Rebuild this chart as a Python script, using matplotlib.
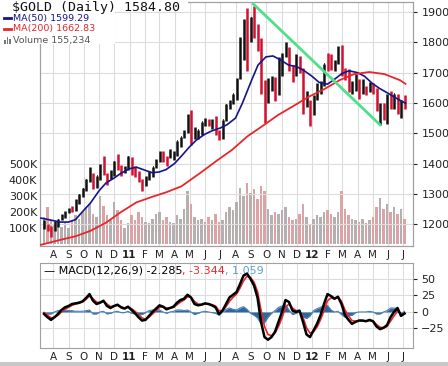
import matplotlib
matplotlib.use('Agg')
import matplotlib.pyplot as plt
import matplotlib.dates as mdates
from matplotlib.patches import Rectangle
import numpy as np
import pandas as pd

# weekly bars (week marked by its Wednesday)
weeks = pd.date_range('2010-07-14', '2012-07-04', freq='W-WED')

high = [1215, 1200, 1195, 1210, 1218, 1235, 1242, 1252, 1259, 1282, 1300, 1320, 1350, 1387, 1370, 1360,
        1398, 1424, 1368, 1380, 1410, 1432, 1395, 1392, 1424,
        1422, 1392, 1375, 1348, 1360, 1375, 1390, 1415, 1440, 1440, 1425, 1448, 1440, 1476, 1488, 1510,
        1565, 1577, 1520, 1512, 1538, 1550, 1548, 1547, 1556, 1510,
        1545, 1595, 1610, 1630, 1682, 1817, 1878, 1913, 1885, 1921, 1860, 1815, 1675, 1682, 1690, 1685,
        1750, 1765, 1802, 1785, 1725, 1762, 1755, 1715, 1640, 1610,
        1625, 1665, 1672, 1730, 1765, 1760, 1740, 1788, 1792, 1715, 1712, 1672, 1696, 1680, 1680, 1655,
        1668, 1665, 1650, 1600, 1600, 1628, 1640, 1630, 1630, 1610, 1627]
low = [1185, 1176, 1157, 1178, 1190, 1215, 1220, 1238, 1240, 1245, 1268, 1290, 1310, 1340, 1315, 1320,
       1345, 1362, 1330, 1348, 1360, 1378, 1360, 1370, 1380,
       1362, 1355, 1340, 1310, 1325, 1345, 1355, 1385, 1405, 1405, 1393, 1418, 1413, 1425, 1453, 1483,
       1500, 1462, 1480, 1480, 1495, 1525, 1525, 1515, 1495, 1478,
       1482, 1540, 1580, 1595, 1610, 1680, 1740, 1705, 1800, 1815, 1770, 1630, 1535, 1600, 1640, 1605,
       1625, 1690, 1750, 1705, 1670, 1690, 1700, 1565, 1585, 1523,
       1560, 1610, 1630, 1655, 1705, 1710, 1705, 1730, 1690, 1675, 1635, 1630, 1640, 1612, 1630, 1625,
       1635, 1630, 1575, 1527, 1545, 1530, 1580, 1580, 1562, 1550, 1580]
close = [1189, 1188, 1181, 1204, 1215, 1227, 1236, 1247, 1246, 1276, 1297, 1317, 1346, 1370, 1327, 1358,
         1393, 1365, 1353, 1364, 1405, 1385, 1375, 1380, 1421,
         1369, 1360, 1342, 1340, 1349, 1361, 1388, 1409, 1429, 1421, 1419, 1428, 1429, 1474, 1486, 1504,
         1557, 1492, 1492, 1510, 1536, 1542, 1530, 1540, 1500, 1485,
         1543, 1594, 1601, 1628, 1663, 1745, 1852, 1828, 1880, 1857, 1812, 1656, 1624, 1635, 1682, 1643,
         1745, 1755, 1788, 1725, 1685, 1747, 1713, 1597, 1606, 1565,
         1617, 1640, 1665, 1728, 1725, 1723, 1726, 1775, 1711, 1710, 1657, 1662, 1668, 1630, 1658, 1642,
         1662, 1644, 1580, 1591, 1573, 1622, 1590, 1628, 1566, 1604, 1585]
volume = [170, 230, 150, 120, 140, 110, 130, 100, 150, 180, 160, 200, 230, 250, 190, 170, 300, 240,
          180, 150, 260, 210, 150, 100, 130,
          180, 150, 200, 170, 140, 130, 160, 190, 200, 150, 170, 140, 130, 180, 160, 220, 330, 250,
          170, 150, 160, 140, 170, 150, 190, 140,
          150, 200, 230, 210, 260, 350, 300, 380, 320, 340, 280, 360, 330, 220, 180, 200, 190, 210,
          230, 170, 150, 160, 190, 250, 170, 120,
          160, 180, 170, 200, 210, 190, 170, 200, 330, 220, 180, 160, 150, 140, 160, 130, 150, 170,
          230, 290, 220, 250, 200, 230, 190, 220, 160]
macd = [-3, -8, -12, -8, -3, 3, 7, 9, 12, 13, 14, 16, 21, 27, 17, 12, 14, 17, 9, 6, 9, 11, 7, 5, 8,
        3, -2, -8, -13, -12, -6, 0, 5, 10, 8, 4, 6, 8, 14, 18, 20, 26, 22, 12, 10, 11, 13, 12, 10, 7, -3,
        2, 12, 22, 26, 30, 42, 55, 58, 50, 40, 22, -15, -38, -42, -38, -30, -15, 0, 18, 15, 2, 0, 2,
        -15, -34, -38,
        -28, -18, -5, 12, 27, 24, 20, 23, 12, -5, -12, -18, -15, -13, -13, -14, -12, -14, -22, -26,
        -24, -20, -8, 0, 6, -6, -2.3]
signal = [-1, -5, -9, -8, -5, 0, 4, 7, 10, 12, 13, 15, 19, 24, 20, 15, 14, 16, 12, 8, 9, 10, 8, 6, 7,
          5, 1, -4, -9, -11, -8, -3, 2, 7, 8, 6, 6, 7, 11, 15, 18, 23, 22, 16, 12, 11, 12, 12, 11, 9, 2,
          2, 8, 16, 22, 27, 36, 47, 54, 52, 45, 31, 3, -22, -34, -36, -32, -22, -9, 7, 12, 6, 2, 2,
          -8, -24, -32,
          -30, -23, -12, 2, 17, 21, 20, 22, 16, 3, -6, -13, -14, -13, -13, -14, -13, -14, -19, -23,
          -24, -22, -14, -6, 1, -3, -3.3]

ma50_dates = pd.to_datetime(['2010-07-08', '2010-08-01', '2010-08-15', '2010-09-01', '2010-09-15',
                             '2010-10-01', '2010-10-15', '2010-11-01', '2010-11-15', '2010-12-01',
                             '2010-12-15', '2011-01-01', '2011-01-15', '2011-02-01', '2011-02-15',
                             '2011-03-01', '2011-03-15', '2011-04-01', '2011-04-15', '2011-05-01',
                             '2011-05-15', '2011-06-01', '2011-06-15', '2011-07-01', '2011-07-15',
                             '2011-08-01', '2011-08-15', '2011-09-01', '2011-09-15', '2011-10-01',
                             '2011-10-15', '2011-11-01', '2011-11-15', '2011-12-01', '2011-12-15',
                             '2012-01-01', '2012-01-15', '2012-02-01', '2012-02-15', '2012-03-01',
                             '2012-03-15', '2012-04-01', '2012-04-15', '2012-05-01', '2012-05-15',
                             '2012-06-01', '2012-06-15', '2012-07-06'])
ma50 = [1220, 1212, 1207, 1207, 1215, 1245, 1270, 1310, 1336, 1352, 1368, 1383, 1388, 1378, 1370,
        1372, 1380, 1400, 1425, 1455, 1478, 1497, 1508, 1517, 1528, 1550, 1600, 1670, 1725, 1752,
        1755, 1740, 1725, 1720, 1708, 1688, 1668, 1662, 1678, 1697, 1706, 1700, 1688, 1664, 1648,
        1632, 1618, 1599]

ma200_dates = pd.to_datetime(['2010-07-08', '2010-08-15', '2010-09-15', '2010-10-15', '2010-11-15',
                              '2010-12-15', '2011-01-15', '2011-02-15', '2011-03-15', '2011-04-15',
                              '2011-05-25', '2011-06-25', '2011-07-25', '2011-08-25', '2011-09-25',
                              '2011-10-25', '2011-11-25', '2011-12-25', '2012-01-25', '2012-02-25',
                              '2012-03-25', '2012-04-25', '2012-05-25', '2012-06-25', '2012-07-06'])
ma200 = [1132, 1148, 1160, 1178, 1205, 1240, 1272, 1290, 1305, 1325, 1372, 1410, 1445, 1490, 1525,
         1560, 1590, 1620, 1645, 1675, 1695, 1702, 1695, 1675, 1663]

trend_dates = pd.to_datetime(['2011-09-06', '2012-05-16'])
trend_values = [1926, 1528]

month_starts = pd.date_range('2010-08-01', '2012-07-01', freq='MS')
month_labels = ['A', 'S', 'O', 'N', 'D', '11', 'F', 'M', 'A', 'M', 'J', 'J',
                'A', 'S', 'O', 'N', 'D', '12', 'F', 'M', 'A', 'M', 'J', 'J']
price_ticks = [1200, 1300, 1400, 1500, 1600, 1700, 1800, 1900]
vol_ticks = [100, 200, 300, 400, 500]
vol_labels = ['100K', '200K', '300K', '400K', '500K']
macd_ticks = [-25, 0, 25, 50]

W, H = 448, 366
grid_c = '#dcdcdc'
frame_c = '#a0a0a0'
up_c = '#111111'
dn_c = '#d0102e'

x = mdates.date2num(weeks)
xm = mdates.date2num(month_starts)
xlim = (mdates.date2num(pd.Timestamp('2010-07-06')), mdates.date2num(pd.Timestamp('2012-07-21')))
chg = np.diff(np.r_[close[0], close])
cols = [up_c if c >= 0 else dn_c for c in chg]
vcols = ['#b5afaf' if c >= 0 else '#dba3a6' for c in chg]

fig = plt.figure(figsize=(W / 100, H / 100), dpi=100)
rect_main = [40 / W, 1 - 246 / H, 373 / W, 244 / H]
axv = fig.add_axes(rect_main)
ax = fig.add_axes(rect_main, facecolor='none')
axm = fig.add_axes([40 / W, 1 - 348 / H, 373 / W, 85 / H])

# volume (behind)
axv.bar(x, volume, width=4.5, color=vcols, linewidth=0)
axv.set_ylim(-10, 1500)
axv.set_xlim(xlim)
axv.set_yticks(vol_ticks)
axv.set_yticklabels(vol_labels)
axv.set_xticks([])
for v in xm:
    axv.axvline(v, color=grid_c, lw=0.8, zorder=0)
axv.tick_params(axis='y', length=0, labelsize=8, pad=2, colors='#222222')

# price
for p in price_ticks:
    ax.axhline(p, color=grid_c, lw=0.8, zorder=0)
ax.vlines(x, low, high, colors=cols, lw=1.8, zorder=3)
ax.hlines(close, x, x + 2.5, colors=cols, lw=1.1, zorder=3)
ax.plot(ma50_dates, ma50, color='#14148c', lw=1.2, zorder=4)
ax.plot(ma200_dates, ma200, color='#e8262b', lw=1.3, zorder=4)
ax.plot(trend_dates, trend_values, color='#4fe08a', lw=2, zorder=5)
ax.set_xlim(xlim)
ax.set_ylim(1128, 1933)
ax.yaxis.tick_right()
ax.set_yticks(price_ticks)
ax.tick_params(axis='y', length=3, labelsize=8, pad=3, colors='#222222')
ax.set_xticks(xm)
ax.set_xticklabels(month_labels)
ax.tick_params(axis='x', length=0, labelsize=7.5, pad=3, colors='#222222')

# MACD
hist = np.array(macd) - np.array(signal)
for v in xm:
    axm.axvline(v, color=grid_c, lw=0.8, zorder=0)
for t in macd_ticks:
    axm.axhline(t, color=grid_c, lw=0.8, zorder=0)
axm.fill_between(x, 0, hist, color='#2f679c', lw=0, zorder=2)
axm.plot(x, hist, color='#4a80b4', lw=0.8, zorder=2)
axm.plot(x, signal, color='#e8262b', lw=1.2, zorder=3)
axm.plot(x, macd, color='black', lw=1.8, zorder=4)
axm.set_xlim(xlim)
axm.set_ylim(-54.5, 74)
axm.yaxis.tick_right()
axm.set_yticks(macd_ticks)
axm.tick_params(axis='y', length=3, labelsize=8, pad=3, colors='#222222')
axm.set_xticks(xm)
axm.set_xticklabels(month_labels)
axm.tick_params(axis='x', length=0, labelsize=7.5, pad=3, colors='#222222')

for a in (ax, axm):
    for lab in a.get_xticklabels():
        if lab.get_text() in ('11', '12'):
            lab.set_fontweight('bold')
for a in (axv, ax, axm):
    for s in a.spines.values():
        s.set_color(frame_c)
        s.set_linewidth(0.8)

# legend block
fig.patches.append(Rectangle((0, 1 - 44 / H), 115 / W, 44 / H, transform=fig.transFigure,
                             facecolor='white', edgecolor='none', zorder=10))
fig.patches.append(Rectangle((0, 1 - 11 / H), 188 / W, 11 / H, transform=fig.transFigure,
                             facecolor='white', edgecolor='none', zorder=10))
fig.text(12 / W, 1 - 7 / H, '$GOLD (Daily) 1584.80', fontsize=9.5, family='DejaVu Sans Mono',
         va='center', ha='left', color='#111111', zorder=11)
fig.text(13 / W, 1 - 18 / H, 'MA(50) 1599.29', fontsize=6.8, va='center', color='#14148c', zorder=11)
fig.text(13 / W, 1 - 29 / H, 'MA(200) 1662.83', fontsize=6.8, va='center', color='#e8262b', zorder=11)
fig.text(13 / W, 1 - 40 / H, 'Volume 155,234', fontsize=6.8, va='center', color='#555555', zorder=11)
fig.lines.append(plt.Line2D([4 / W, 11 / W], [1 - 18 / H] * 2, transform=fig.transFigure,
                            color='#14148c', lw=2, zorder=11))
fig.lines.append(plt.Line2D([4 / W, 11 / W], [1 - 29 / H] * 2, transform=fig.transFigure,
                            color='#e8262b', lw=2, zorder=11))
for i, hh in enumerate([4, 7, 5]):
    fig.patches.append(Rectangle(((4 + 2.5 * i) / W, 1 - 44 / H), 1.6 / W, hh / H,
                                 transform=fig.transFigure, facecolor='#777777', zorder=11))

t1 = axm.text(0.01, 0.91, '\u2014 MACD(12,26,9) -2.285', transform=axm.transAxes, fontsize=8,
              va='center', color='black')
t2 = axm.annotate(', -3.344', xy=(1, 0.5), xycoords=t1, va='center', ha='left',
                  fontsize=8, color='#e8262b')
axm.annotate(', 1.059', xy=(1, 0.5), xycoords=t2, va='center', ha='left',
             fontsize=8, color='#5aa0d0')

fig.patches.append(Rectangle((0, 0), 1, 4 / H, transform=fig.transFigure,
                             facecolor='#c8c8c8', edgecolor='none'))

fig.savefig('out.png', dpi=100)
